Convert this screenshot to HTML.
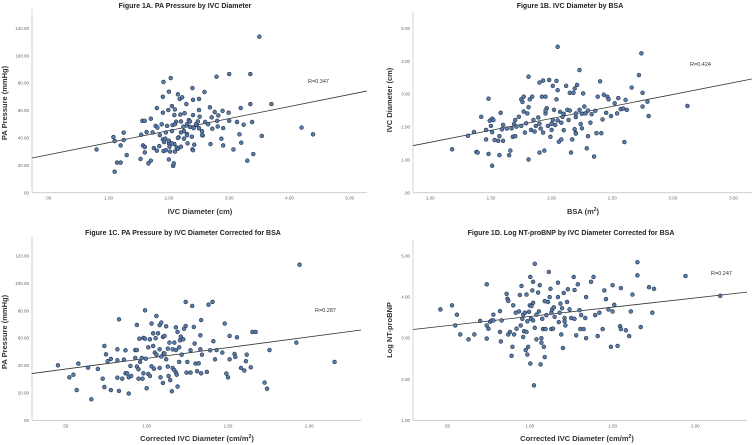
<!DOCTYPE html>
<html><head><meta charset="utf-8"><style>
html,body{margin:0;padding:0;background:#fff;}
svg{display:block;font-family:"Liberation Sans",sans-serif;}
</style></head><body>
<svg id="chart" width="755" height="445" viewBox="0 0 755 445" xmlns="http://www.w3.org/2000/svg"></svg>
<script>
// Panel A data: IVC diameter (cm) vs PA pressure (mmHg)
const aX=[0.80,1.08,1.10,1.10,1.14,1.20,1.20,1.25,1.25,1.30,1.53,1.54,1.56,1.60,1.57,1.60,1.60,1.63,1.70,1.66,1.70,1.73,1.75,1.78,1.80,1.81,1.80,1.84,1.88,1.90,1.90,1.91,1.90,1.91,1.94,1.95,1.97,1.99,2.00,2.00,2.00,2.01,2.02,2.03,2.05,2.06,2.07,2.08,2.09,2.09,2.10,2.12,2.13,2.15,2.16,2.18,2.19,2.20,2.22,2.24,2.25,2.26,2.29,2.30,2.31,2.33,2.35,2.38,2.39,2.39,2.40,2.40,2.41,2.42,2.46,2.50,2.50,2.51,2.55,2.56,2.59,2.60,2.68,2.69,2.71,2.72,2.76,2.79,2.80,2.81,2.82,2.87,2.89,2.90,2.90,2.99,3.00,3.00,3.07,3.13,3.17,3.19,3.20,3.24,3.30,3.35,3.35,3.38,3.40,3.50,3.54,3.70,4.20,4.39,2.0,2.05,2.1,2.15,2.2,2.25,2.3,2.35,2.45,2.5,2.48,1.85,1.95,2.05,2.15,2.3,2.4,1.92,2.1,2.2,2.55,2.65];
const aY=[31.6,40.6,37.7,15.3,22,22,34.5,43.8,38.4,27.5,24.6,42.3,52.5,52.5,34.5,33.3,29.4,44.3,54,21.4,23.4,44,32.6,48.7,61.8,47.5,30.7,34,49.9,58.4,70,80.8,38.9,30.4,39.4,31,48.7,60.3,73.7,36,24.3,33.6,30,83.7,63.2,49.4,19.5,21.4,35.5,56.7,60.8,51.8,33,71.8,40.4,68.4,57,33.6,69.6,48.2,39.4,58,64.7,42.8,36,53,48,40.9,76.4,31.6,67.8,56.7,47.2,35,49.4,68.4,60.3,55.5,44.8,41.8,73.5,51.6,62.3,35.5,55,46.7,58.9,84.7,52.5,48.4,56.4,39.4,59.8,47.2,34.5,58.4,86.6,52.5,31.6,51.6,42.6,61.8,36.5,49.6,23.4,64.7,86.6,51.6,28.2,113.9,41.4,64.7,47.5,42.6,38,45,50,40,52,45,50,52,50,47,52,42,44,36,32,42,31,37,30,44,42,50];
// Panel B data: BSA (m2) vs IVC diameter (cm)
const bX=[1.18,1.31,1.36,1.38,1.39,1.42,1.46,1.46,1.48,1.48,1.49,1.50,1.51,1.51,1.51,1.52,1.53,1.56,1.57,1.57,1.58,1.59,1.60,1.60,1.63,1.65,1.66,1.67,1.68,1.69,1.70,1.70,1.71,1.73,1.75,1.75,1.76,1.77,1.77,1.78,1.79,1.80,1.81,1.81,1.81,1.82,1.83,1.84,1.85,1.86,1.87,1.89,1.90,1.90,1.91,1.92,1.93,1.93,1.94,1.95,1.95,1.96,1.97,1.98,1.99,2.00,2.01,2.01,2.02,2.03,2.04,2.04,2.05,2.05,2.06,2.07,2.08,2.08,2.09,2.12,2.13,2.14,2.15,2.16,2.17,2.18,2.19,2.19,2.20,2.20,2.21,2.23,2.23,2.24,2.25,2.26,2.27,2.28,2.29,2.30,2.32,2.33,2.35,2.36,2.37,2.38,2.40,2.41,2.42,2.43,2.45,2.46,2.47,2.49,2.52,2.54,2.55,2.57,2.59,2.60,2.61,2.62,2.66,2.72,2.74,2.75,2.75,2.79,2.80,3.12,2.0,2.05,2.1,2.15,1.95,2.25,2.3,1.9,2.1,2.2,2.2];
const bY=[1.32,1.73,1.85,1.24,1.22,2.31,1.91,1.62,2.86,1.18,2.19,2.03,1.84,2.25,0.82,2.21,1.60,1.58,1.72,1.14,2.43,1.93,2.06,1.58,1.95,1.14,1.28,1.96,1.70,2.09,1.72,2.21,2.01,2.31,2.03,2.84,2.76,2.92,2.47,1.83,2.11,2.41,3.53,1.01,2.60,2.84,1.91,2.92,2.21,1.86,2.03,2.29,3.35,1.22,1.95,2.92,3.41,1.83,1.28,2.41,2.92,2.57,2.03,3.43,1.70,1.91,2.21,3.25,2.52,2.06,2.84,3.40,4.44,3.12,1.55,2.46,2.13,1.62,2.31,3.25,2.52,2.21,3.04,1.22,1.62,3.04,1.93,3.17,2.41,1.81,3.28,3.73,2.52,2.09,1.96,3.02,2.62,2.41,1.35,1.72,2.13,2.39,1.10,2.49,1.81,2.92,3.39,1.81,2.23,2.98,2.43,2.92,2.84,2.33,2.72,2.41,2.88,2.54,2.56,1.54,2.82,2.52,3.20,3.58,4.24,2.62,3.04,2.77,2.33,2.64,2.1,2.2,2.4,2.5,2.5,2.4,2.5,2.1,1.9,1.8,2.3];
// Panel C data: corrected IVC diameter (cm/m2) vs PA pressure (mmHg)
const cX=[0.455,0.525,0.55,0.58,0.57,0.64,0.66,0.70,0.73,0.74,0.74,0.75,0.76,0.78,0.78,0.82,0.82,0.82,0.83,0.83,0.85,0.86,0.87,0.87,0.88,0.89,0.89,0.90,0.905,0.93,0.93,0.94,0.94,0.94,0.95,0.95,0.955,0.96,0.97,0.975,0.98,0.98,0.99,0.99,0.995,1.0,1.01,1.01,1.02,1.02,1.03,1.03,1.04,1.04,1.045,1.05,1.055,1.06,1.06,1.07,1.08,1.08,1.08,1.085,1.09,1.09,1.10,1.10,1.105,1.11,1.11,1.12,1.12,1.13,1.13,1.135,1.14,1.145,1.155,1.16,1.16,1.17,1.17,1.18,1.18,1.18,1.185,1.19,1.19,1.20,1.20,1.205,1.21,1.215,1.225,1.23,1.24,1.24,1.245,1.25,1.27,1.27,1.28,1.29,1.295,1.30,1.31,1.32,1.33,1.33,1.335,1.34,1.335,1.37,1.38,1.39,1.405,1.41,1.42,1.43,1.465,1.48,1.49,1.50,1.51,1.51,1.54,1.545,1.555,1.58,1.60,1.61,1.615,1.64,1.65,1.67,1.725,1.74,1.755,1.92,1.94,2.155];
const cY=[40.1,31.4,33.3,41.4,22.1,38.4,15.3,37.5,30.4,54.3,24.3,48.2,43.1,22.1,44.8,51.8,43.8,31.1,21.4,73.7,30.4,44.3,34.3,51.1,34.3,19.5,31.4,39.7,32.4,45.5,51.3,39.2,51.3,69.6,37.2,30.4,59.6,42.6,45.5,30.4,60.1,34.3,59.6,80.3,45,23.4,33.8,53.3,32.4,59.1,70.6,39.4,54.3,63.5,37.7,49.4,59.9,76.2,47.9,63.5,69.4,38.2,51.8,31.4,71.3,46.5,60.8,27.3,48.9,48.7,61.6,44.5,68.6,39.2,52.3,32.4,56.7,29.4,21.2,38.2,51.8,36.7,56.7,34.8,67.9,51.3,33.3,24.6,64.5,53.3,42.6,58.4,61.1,47.9,59.1,66.9,86.4,68.9,34.8,42.6,51.1,34.8,83.5,68.1,56,41.4,35.8,41.6,62,51.8,73.2,47.9,34.3,35.3,84.4,51.1,86.4,57.7,44.5,51.3,49.4,70.6,34.1,31.4,44.5,61.6,48.4,46.2,60.6,38.2,36.3,43.1,47.9,38.7,64.5,64.5,27.5,23.1,51.3,56.7,113.6,42.6];
// Panel D data: corrected IVC diameter (cm/m2) vs log NT-proBNP
const dX=[0.46,0.53,0.55,0.56,0.58,0.63,0.665,0.70,0.74,0.74,0.74,0.75,0.76,0.77,0.78,0.78,0.82,0.82,0.825,0.83,0.86,0.865,0.87,0.87,0.88,0.89,0.895,0.90,0.905,0.915,0.92,0.935,0.94,0.945,0.95,0.955,0.96,0.96,0.965,0.97,0.975,0.98,0.98,0.985,0.985,0.99,0.995,1.0,1.003,1.003,1.007,1.01,1.015,1.02,1.02,1.02,1.025,1.03,1.03,1.04,1.04,1.05,1.055,1.06,1.065,1.07,1.07,1.075,1.08,1.085,1.09,1.09,1.095,1.10,1.11,1.115,1.12,1.125,1.13,1.13,1.135,1.14,1.145,1.15,1.17,1.17,1.175,1.18,1.185,1.19,1.195,1.20,1.205,1.21,1.21,1.215,1.225,1.23,1.24,1.25,1.265,1.27,1.27,1.28,1.29,1.30,1.305,1.31,1.325,1.335,1.34,1.34,1.37,1.385,1.395,1.41,1.42,1.44,1.45,1.46,1.475,1.49,1.50,1.50,1.51,1.53,1.545,1.55,1.55,1.58,1.60,1.61,1.62,1.65,1.65,1.67,1.72,1.74,1.75,1.94,2.15];
const dY=[3.70,3.80,3.31,3.57,3.09,2.97,3.09,3.42,4.31,3.31,2.99,3.23,3.40,3.43,3.57,3.43,3.66,3.15,2.92,3.43,4.08,3.96,3.09,3.91,3.15,2.57,2.79,3.80,3.09,3.62,3.23,3.65,4.05,3.31,4.27,3.47,3.57,3.03,3.17,3.62,2.71,4.06,3.15,2.60,3.41,2.79,3.64,3.80,2.38,4.49,3.47,3.78,4.16,4.37,3.43,3.86,1.85,3.25,4.81,2.97,3.57,4.11,3.65,4.29,2.36,2.89,3.00,3.47,3.22,2.79,3.90,2.54,3.22,3.56,3.88,4.61,4.00,4.20,3.62,3.22,3.70,3.23,3.75,3.52,4.00,4.35,3.39,3.62,3.84,3.09,3.73,2.76,4.10,3.41,3.49,3.31,3.88,4.19,3.70,3.49,4.49,4.17,3.47,3.07,4.31,3.68,3.22,3.56,3.22,3.49,4.00,3.00,4.37,4.49,3.56,3.05,3.62,3.22,4.16,3.95,3.70,2.79,3.65,4.29,3.81,2.81,3.29,3.22,4.22,3.19,3.05,3.65,4.06,4.53,4.85,3.27,4.24,3.62,4.20,4.51,4.03];
// Fit lines (endpoint values) and R labels
const fitA=[-0.27,25.3,5.28,74.2], fitB=[0.857,1.43,3.65,3.46], fitC=[0.293,34.1,2.318,65.9], fitD=[0.295,3.21,2.312,4.12];
const ticksAX=[0,1,2,3,4,5], ticksAY=[0,20,40,60,80,100,120];
const ticksBX=[1,1.5,2,2.5,3,3.5], ticksBY=[0,1,2,3,4,5];
const ticksCX=[0.5,1,1.5,2], ticksCY=[0,20,40,60,80,100,120];
const ticksDX=[0.5,1,1.5,2], ticksDY=[1,2,3,4,5];

const svg=document.getElementById('chart');
const NS='http://www.w3.org/2000/svg';
function mk(tag,attrs,parent){const e=document.createElementNS(NS,tag);for(const k in attrs)e.setAttribute(k,attrs[k]);(parent||svg).appendChild(e);return e;}
function fmt(v){let s=v.toFixed(2);if(s.startsWith('0'))s=s.slice(1);return s;}

function panel(p){
  const g=mk('g',{});
  
  
  const xs=v=>p.x0px+(v-p.x0v)*p.kx, ys=v=>p.y0px-(v-p.y0v)*p.ky;
  const t=mk('text',{x:p.tx,y:p.ty,'text-anchor':'middle','font-size':'7','font-weight':'bold',fill:'#222'},g);
  t.textContent=p.title;
  
  
  const ya=mk('line',{x1:p.left,y1:p.top,x2:p.left,y2:p.bottom,stroke:'#c8c8c8','stroke-width':'0.8'},g);
  
  
  const xa=mk('line',{x1:p.left,y1:p.bottom,x2:p.right,y2:p.bottom,stroke:'#c8c8c8','stroke-width':'0.8'},g);
  
  
  p.yt.forEach(v=>{const e=mk('text',{x:p.left-3,y:ys(v)+1.6,'text-anchor':'end','font-size':'4.5',fill:'#666'},g);e.textContent=fmt(v);
    
    });
  p.xt.forEach(v=>{const e=mk('text',{x:xs(v),y:p.bottom+7,'text-anchor':'middle','font-size':'4.5',fill:'#666'},g);e.textContent=fmt(v);
    
    });
  const xt=mk('text',{x:p.xtx,y:p.xty,'text-anchor':'middle','font-size':'7.5','font-weight':'bold',fill:'#333'},g);
  xt.innerHTML=p.xtitle;
  
  
  const yt=mk('text',{x:0,y:0,'text-anchor':'middle','font-size':'7.5','font-weight':'bold',fill:'#333',transform:`translate(${p.ytx},${p.yty}) rotate(-90)`},g);
  yt.textContent=p.ytitle;
  
  
  const f=p.fit;
  const fl=mk('line',{x1:xs(f[0]),y1:ys(f[1]),x2:xs(f[2]),y2:ys(f[3]),stroke:'#333','stroke-width':'0.8'},g);
  
  
  p.X.forEach((v,i)=>{const c=mk('circle',{cx:xs(v),cy:ys(p.Y[i]),r:'1.9',fill:'#5b7ca8',stroke:'#1f2f48','stroke-width':'0.6'},g);
    
    });
  const r=mk('text',{x:p.rx,y:p.ry,'font-size':'5.5',fill:'#333'},g);
  r.textContent=p.rlabel;
  
  
}

panel({name:'panel-1a',title:'Figure 1A. PA Pressure by IVC Diameter',tx:185,ty:8,left:32,right:367,top:9,bottom:192.7,
 x0px:48.3,x0v:0,kx:60.3,y0px:192.7,y0v:0,ky:1.37,xt:ticksAX,yt:ticksAY,X:aX,Y:aY,fit:fitA,
 xtitle:'IVC Diameter (cm)',xtx:200,xty:214,ytitle:'PA Pressure (mmHg)',ytx:7,yty:103,rx:308,ry:83,rlabel:'R=0.347'});
panel({name:'panel-1b',title:'Figure 1B. IVC Diameter by BSA',tx:570,ty:8,left:413,right:752,top:12,bottom:192.7,
 x0px:430.3,x0v:1,kx:121.3,y0px:192.7,y0v:0,ky:32.87,xt:ticksBX,yt:ticksBY,X:bX,Y:bY,fit:fitB,
 xtitle:'BSA (m<tspan font-size="5" dy="-3">2</tspan><tspan dy="3">)</tspan>',xtx:583,xty:214,ytitle:'IVC Diameter (cm)',ytx:392,yty:100,rx:690,ry:66,rlabel:'R=0.424'});
panel({name:'panel-1c',title:'Figure 1C. PA Pressure by IVC Diameter Corrected for BSA',tx:183,ty:235,left:32,right:361,top:236,bottom:420.3,
 x0px:65.3,x0v:0.5,kx:162.7,y0px:420.3,y0v:0,ky:1.37,xt:ticksCX,yt:ticksCY,X:cX,Y:cY,fit:fitC,
 xtitle:'Corrected IVC Diameter (cm/m<tspan font-size="5" dy="-3">2</tspan><tspan dy="3">)</tspan>',xtx:197,xty:441,ytitle:'PA Pressure (mmHg)',ytx:7,yty:332,rx:315,ry:312,rlabel:'R=0.287'});
panel({name:'panel-1d',title:'Figure 1D. Log NT-proBNP by IVC Diameter Corrected for BSA',tx:571,ty:235,left:413,right:747,top:240,bottom:420.3,
 x0px:447,x0v:0.5,kx:165.6,y0px:420.3,y0v:1,ky:41.08,xt:ticksDX,yt:ticksDY,X:dX,Y:dY,fit:fitD,
 xtitle:'Corrected IVC Diameter (cm/m<tspan font-size="5" dy="-3">2</tspan><tspan dy="3">)</tspan>',xtx:577,xty:441,ytitle:'Log NT-proBNP',ytx:392,yty:330,rx:711,ry:275,rlabel:'R=0.247'});
</script>
</body></html>
